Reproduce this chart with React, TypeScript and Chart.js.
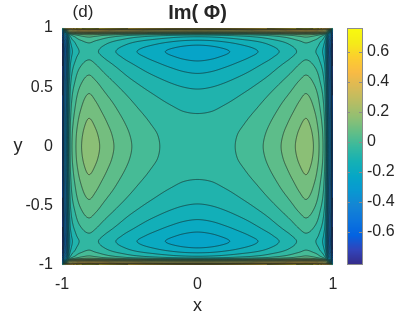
import React, { useEffect, useRef } from "react";
import { Chart, registerables } from "chart.js";

Chart.register(...registerables);

// Sample coordinates of the quadrant 0 ≤ x ≤ 1, 0 ≤ y ≤ 1 (field is mirror-symmetric in x and in y)
const quadCoords = [0, 0.1, 0.2, 0.3, 0.4, 0.5, 0.6, 0.7, 0.75, 0.8, 0.85, 0.9, 0.94, 0.97, 0.99, 1];

// Im(Φ): rows follow y = quadCoords, columns follow x = quadCoords
const imPhiQuadrant: number[][] = [
  [-0.05, -0.047, -0.037, -0.021, 0.001, 0.03, 0.068, 0.113, 0.14, 0.16, 0.13, 0.07, -0.02, -0.33, -0.5, -0.73],
  [-0.053, -0.05, -0.04, -0.024, -0.003, 0.025, 0.062, 0.106, 0.132, 0.152, 0.123, 0.065, -0.024, -0.333, -0.502, -0.732],
  [-0.063, -0.06, -0.05, -0.035, -0.014, 0.013, 0.048, 0.09, 0.115, 0.133, 0.106, 0.051, -0.034, -0.341, -0.509, -0.738],
  [-0.079, -0.076, -0.065, -0.05, -0.03, -0.004, 0.03, 0.07, 0.093, 0.111, 0.086, 0.035, -0.047, -0.352, -0.519, -0.748],
  [-0.101, -0.097, -0.086, -0.07, -0.05, -0.024, 0.009, 0.047, 0.07, 0.087, 0.065, 0.016, -0.063, -0.366, -0.532, -0.76],
  [-0.13, -0.125, -0.113, -0.096, -0.076, -0.05, -0.018, 0.02, 0.043, 0.06, 0.039, -0.007, -0.082, -0.384, -0.548, -0.775],
  [-0.168, -0.162, -0.148, -0.13, -0.109, -0.083, -0.05, -0.013, 0.009, 0.026, 0.008, -0.034, -0.107, -0.406, -0.569, -0.795],
  [-0.213, -0.206, -0.19, -0.17, -0.147, -0.12, -0.087, -0.05, -0.028, -0.011, -0.027, -0.065, -0.134, -0.431, -0.593, -0.819],
  [-0.24, -0.232, -0.215, -0.193, -0.17, -0.143, -0.109, -0.072, -0.05, -0.033, -0.047, -0.083, -0.151, -0.447, -0.607, -0.833],
  [-0.26, -0.252, -0.233, -0.211, -0.187, -0.16, -0.126, -0.089, -0.067, -0.05, -0.063, -0.098, -0.163, -0.458, -0.618, -0.843],
  [-0.23, -0.223, -0.206, -0.186, -0.165, -0.139, -0.108, -0.073, -0.053, -0.037, -0.05, -0.084, -0.149, -0.444, -0.604, -0.829],
  [-0.17, -0.165, -0.151, -0.135, -0.116, -0.094, -0.066, -0.035, -0.017, -0.003, -0.016, -0.05, -0.114, -0.4, -0.55, -0.765],
  [-0.08, -0.076, -0.066, -0.053, -0.037, -0.018, 0.007, 0.034, 0.051, 0.063, 0.049, 0.014, -0.05, -0.31, -0.458, -0.654],
  [0.23, 0.233, 0.241, 0.252, 0.266, 0.284, 0.306, 0.331, 0.347, 0.358, 0.344, 0.304, 0.233, -0.05, -0.306, -0.483],
  [0.4, 0.402, 0.409, 0.419, 0.432, 0.448, 0.469, 0.493, 0.507, 0.518, 0.504, 0.45, 0.358, 0.206, -0.05, -0.213],
  [0.63, 0.632, 0.638, 0.648, 0.66, 0.675, 0.695, 0.719, 0.733, 0.743, 0.729, 0.665, 0.554, 0.383, 0.113, -0.05],
];

const contourLevels = [
  -0.825, -0.775, -0.725, -0.675, -0.625, -0.575, -0.525, -0.475, -0.425, -0.375, -0.325,
  -0.275, -0.225, -0.175, -0.125, -0.075, -0.025, 0.025, 0.075, 0.125, 0.175, 0.225,
  0.275, 0.325, 0.375, 0.425, 0.475, 0.525, 0.575, 0.625, 0.675, 0.725, 0.775,
];

const xTicks = [-1, 0, 1];
const yTicks = [-1, -0.5, 0, 0.5, 1];
const colorTicks = [-0.6, -0.4, -0.2, 0, 0.2, 0.4, 0.6];
const colorMin = -0.822;
const colorMax = 0.758;
const titleText = "Im( Φ)";
const panelLabel = "(d)";
const xLabel = "x";
const yLabel = "y";

// parula colormap stops (style)
const PARULA = [
  [0.2081, 0.1663, 0.5292], [0.1959, 0.2645, 0.7279], [0.0117, 0.3875, 0.882],
  [0.0498, 0.4586, 0.8641], [0.0793, 0.52, 0.8312], [0.0343, 0.5966, 0.8199],
  [0.0228, 0.6535, 0.7768], [0.0843, 0.6928, 0.7062], [0.2178, 0.725, 0.6193],
  [0.3953, 0.7459, 0.5244], [0.5709, 0.7485, 0.4494], [0.7184, 0.7411, 0.3905],
  [0.8507, 0.7299, 0.336], [0.9739, 0.7314, 0.2666], [0.988, 0.8066, 0.1794],
  [0.9598, 0.9218, 0.0948], [0.9763, 0.9831, 0.0538],
];

function parula(t: number): number[] {
  const tt = Math.max(0, Math.min(1, t)) * (PARULA.length - 1);
  const i = Math.min(PARULA.length - 2, Math.floor(tt));
  const f = tt - i;
  const a = PARULA[i], b = PARULA[i + 1];
  return [0, 1, 2].map((k) => Math.round(255 * (a[k] + (b[k] - a[k]) * f)));
}

// full grid built by mirroring the quadrant
const fullCoords = [...quadCoords.slice(1).reverse().map((v) => -v), ...quadCoords];
const nQ = quadCoords.length - 1;
const fullGrid: number[][] = fullCoords.map((_, j) =>
  fullCoords.map((__, i) => imPhiQuadrant[Math.abs(j - nQ)][Math.abs(i - nQ)])
);

function tangents(xs: number[], ys: number[]): number[] {
  const n = xs.length;
  const m = new Array(n).fill(0);
  for (let k = 0; k < n; k++) {
    if (k === 0) m[k] = (ys[1] - ys[0]) / (xs[1] - xs[0]);
    else if (k === n - 1) m[k] = (ys[n - 1] - ys[n - 2]) / (xs[n - 1] - xs[n - 2]);
    else {
      const h0 = xs[k] - xs[k - 1], h1 = xs[k + 1] - xs[k];
      const s0 = (ys[k] - ys[k - 1]) / h0, s1 = (ys[k + 1] - ys[k]) / h1;
      const p = (s0 * h1 + s1 * h0) / (h0 + h1);
      m[k] = (Math.sign(s0) + Math.sign(s1)) * Math.min(Math.abs(s0), Math.abs(s1), 0.5 * Math.abs(p)) || 0;
    }
  }
  return m;
}

function herm(xs: number[], ys: number[], m: number[], x: number): number {
  const n = xs.length;
  const xv = Math.max(xs[0], Math.min(xs[n - 1], x));
  let k = 0;
  while (k < n - 2 && xv > xs[k + 1]) k++;
  const h = xs[k + 1] - xs[k];
  const t = (xv - xs[k]) / h;
  const t2 = t * t, t3 = t2 * t;
  return (2 * t3 - 3 * t2 + 1) * ys[k] + (t3 - 2 * t2 + t) * h * m[k] +
    (-2 * t3 + 3 * t2) * ys[k + 1] + (t3 - t2) * h * m[k + 1];
}

const FONT = "'Liberation Sans', Arial, Helvetica, sans-serif";
const TEXT = "#262626";

const fieldPlugin = {
  id: "fieldPlugin",
  beforeDatasetsDraw(chart: any) {
    const { ctx, chartArea: a, scales } = chart;
    const sx = scales.x, sy = scales.y;
    const L = Math.round(a.left), T = Math.round(a.top);
    const W = Math.round(a.right) - L, H = Math.round(a.bottom) - T;
    const vals = new Float32Array(W * H);
    const rowTan = fullGrid.map((row) => tangents(fullCoords, row));
    const yVals: number[] = [];
    for (let r = 0; r < H; r++) yVals.push(sy.getValueForPixel(T + r + 0.5));
    for (let c = 0; c < W; c++) {
      const xv = sx.getValueForPixel(L + c + 0.5);
      const col = fullGrid.map((row, j) => herm(fullCoords, row, rowTan[j], xv));
      const ct = tangents(fullCoords, col);
      for (let r = 0; r < H; r++) vals[r * W + c] = herm(fullCoords, col, ct, yVals[r]);
    }
    const nL = contourLevels.length;
    const bandColors: number[][] = [];
    for (let k = 0; k <= nL; k++) {
      const lo = k === 0 ? colorMin : contourLevels[k - 1];
      const hi = k === nL ? colorMax : contourLevels[k];
      const mid = (lo + hi) / 2;
      bandColors.push(parula((mid - colorMin) / (colorMax - colorMin)));
    }
    const img = ctx.createImageData(W, H);
    for (let p = 0; p < W * H; p++) {
      const v = vals[p];
      let k = 0;
      while (k < nL && contourLevels[k] <= v) k++;
      const col = bandColors[k];
      img.data[p * 4] = col[0];
      img.data[p * 4 + 1] = col[1];
      img.data[p * 4 + 2] = col[2];
      img.data[p * 4 + 3] = 255;
    }
    ctx.putImageData(img, L, T);

    // contour lines by marching squares
    ctx.save();
    ctx.beginPath();
    for (let r = 0; r < H - 1; r++) {
      for (let c = 0; c < W - 1; c++) {
        const v00 = vals[r * W + c], v10 = vals[r * W + c + 1];
        const v01 = vals[(r + 1) * W + c], v11 = vals[(r + 1) * W + c + 1];
        const mn = Math.min(v00, v10, v01, v11), mx = Math.max(v00, v10, v01, v11);
        for (let li = 0; li < nL; li++) {
          const lv = contourLevels[li];
          if (lv < mn || lv > mx) continue;
          const pts: number[][] = [];
          const x0 = L + c + 0.5, y0 = T + r + 0.5;
          const edge = (va: number, vb: number, ax: number, ay: number, bx: number, by: number) => {
            if ((va >= lv) !== (vb >= lv)) {
              const t = (lv - va) / (vb - va);
              pts.push([ax + (bx - ax) * t, ay + (by - ay) * t]);
            }
          };
          edge(v00, v10, x0, y0, x0 + 1, y0);
          edge(v10, v11, x0 + 1, y0, x0 + 1, y0 + 1);
          edge(v11, v01, x0 + 1, y0 + 1, x0, y0 + 1);
          edge(v01, v00, x0, y0 + 1, x0, y0);
          for (let q = 0; q + 1 < pts.length; q += 2) {
            ctx.moveTo(pts[q][0], pts[q][1]);
            ctx.lineTo(pts[q + 1][0], pts[q + 1][1]);
          }
        }
      }
    }
    ctx.strokeStyle = "rgba(20,30,30,0.8)";
    ctx.lineWidth = 0.75;
    ctx.stroke();
    ctx.restore();
  },
  afterDraw(chart: any) {
    const { ctx, chartArea: a, scales } = chart;
    const cb = scales.cb;
    // colorbar
    const bx = Math.round(cb.left) + 14, bw = 16;
    const top = Math.round(a.top), bot = Math.round(a.bottom);
    for (let y = top; y < bot; y++) {
      const v = cb.getValueForPixel(y + 0.5);
      const col = parula((v - colorMin) / (colorMax - colorMin));
      ctx.fillStyle = `rgb(${col[0]},${col[1]},${col[2]})`;
      ctx.fillRect(bx, y, bw, 1);
    }
    ctx.save();
    ctx.strokeStyle = "#8c8c8c";
    ctx.lineWidth = 1;
    ctx.strokeRect(bx + 0.5, top + 0.5, bw - 1, bot - top - 1);
    ctx.beginPath();
    for (const t of colorTicks) {
      const py = Math.round(cb.getPixelForValue(t)) + 0.5;
      ctx.moveTo(bx + bw - 1, py);
      ctx.lineTo(bx + bw - 4, py);
      ctx.moveTo(bx, py);
      ctx.lineTo(bx + 3, py);
    }
    ctx.stroke();

    // texts
    ctx.fillStyle = TEXT;
    ctx.textBaseline = "middle";
    ctx.textAlign = "center";
    ctx.font = `bold 20px ${FONT}`;
    ctx.fillText(titleText, (a.left + a.right) / 2, 13);
    ctx.font = `17px ${FONT}`;
    ctx.fillText(panelLabel, 83, 12);
    ctx.font = `18px ${FONT}`;
    ctx.fillText(xLabel, (a.left + a.right) / 2, 306);
    ctx.fillText(yLabel, 18, (a.top + a.bottom) / 2);
    ctx.restore();
  },
};

const noPad = (s: any) => {
  s.paddingTop = 0;
  s.paddingBottom = 0;
  s.paddingLeft = 0;
  s.paddingRight = 0;
};

export default function App() {
  const ref = useRef<HTMLCanvasElement | null>(null);
  useEffect(() => {
    if (!ref.current) return;
    const tickFont = { family: FONT, size: 16 };
    const chart = new Chart(ref.current, {
      type: "scatter",
      data: { datasets: [{ data: [] }] },
      options: {
        responsive: false,
        animation: false,
        devicePixelRatio: 1,
        layout: { padding: { top: 28, left: 0, right: 0, bottom: 0 } },
        plugins: { legend: { display: false }, tooltip: { enabled: false } },
        scales: {
          x: {
            type: "linear",
            min: -1,
            max: 1,
            afterBuildTicks: (s: any) => { s.ticks = xTicks.map((v) => ({ value: v })); },
            afterFit: (s: any) => { s.height = 51; noPad(s); },
            grid: { display: false },
            border: { display: false },
            ticks: { font: tickFont, color: TEXT, padding: 2, autoSkip: false, maxRotation: 0, callback: (v: any) => String(v) },
          },
          y: {
            type: "linear",
            min: -1,
            max: 1,
            afterBuildTicks: (s: any) => { s.ticks = yTicks.map((v) => ({ value: v })); },
            afterFit: (s: any) => { s.width = 62; noPad(s); },
            grid: { display: false },
            border: { display: false },
            ticks: { font: tickFont, color: TEXT, padding: 1, autoSkip: false, callback: (v: any) => String(v) },
          },
          cb: {
            type: "linear",
            position: "right",
            min: colorMin,
            max: colorMax,
            afterBuildTicks: (s: any) => { s.ticks = colorTicks.map((v) => ({ value: v })); },
            afterFit: (s: any) => { s.width = 66; noPad(s); },
            grid: { display: false },
            border: { display: false },
            ticks: { font: tickFont, color: TEXT, padding: 26, autoSkip: false, callback: (v: any) => String(v) },
          },
        },
      } as any,
      plugins: [fieldPlugin],
    });
    return () => chart.destroy();
  }, []);
  return (
    <div style={{ position: "fixed", left: 0, top: 0, width: 399, height: 316, background: "#fff" }}>
      <canvas ref={ref} width={399} height={316} style={{ display: "block", width: 399, height: 316 }} />
    </div>
  );
}
